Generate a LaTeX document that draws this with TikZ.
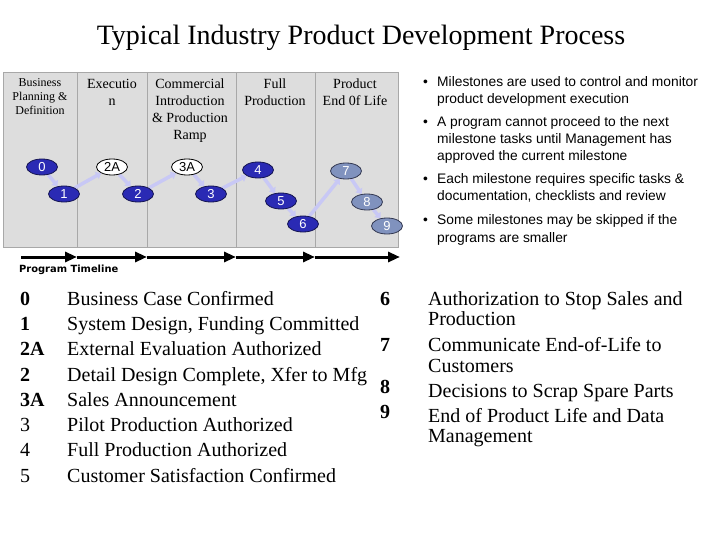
\documentclass[tikz,border=0pt]{standalone}
\usepackage{fontspec}
\setmainfont{Liberation Serif}
\setsansfont{Liberation Sans}
\newfontfamily\verdfont{DejaVu Sans}
\usetikzlibrary{shapes.geometric,arrows.meta,backgrounds}
\pgfdeclarelayer{conn}
\pgfsetlayers{background,conn,main}
\definecolor{panelgray}{RGB}{221,221,221}
\definecolor{panelline}{RGB}{168,168,168}
\definecolor{msblue}{RGB}{42,42,180}
\definecolor{msblueline}{RGB}{20,20,80}
\definecolor{msgray}{RGB}{128,146,190}
\definecolor{msgrayline}{RGB}{50,55,80}
\definecolor{connlav}{RGB}{200,200,245}
\tikzset{
  ms/.style={ellipse,minimum width=31pt,minimum height=16pt,inner sep=0pt,
    font=\fontsize{13}{13}\sffamily,line width=0.8pt},
  msb/.style={ms,fill=msblue,draw=msblueline,text=white},
  msg/.style={ms,fill=msgray,draw=msgrayline,text=white},
  msw/.style={ms,fill=white,draw=black,text=black},
  conn/.style={draw=connlav,line width=3.5pt,-{Triangle[width=8pt,length=5pt]}},
  tline/.style={draw=black,line width=3pt,-{Triangle[width=10pt,length=12pt]}},
  hdr/.style={anchor=base,align=center,font=\fontsize{14}{17}\selectfont,inner sep=0pt},
  bul/.style={anchor=base west,font=\fontsize{13.8}{17}\sffamily,inner sep=0pt},
  lst/.style={anchor=base west,font=\fontsize{20}{20.5}\selectfont,inner sep=0pt},
  lstb/.style={lst,font=\fontsize{20}{20.5}\selectfont\bfseries},
}
\begin{document}
\begin{tikzpicture}[x=1pt,y=-1pt]
\useasboundingbox (0,0) rectangle (720,540);
% title
\node[anchor=base,font=\fontsize{28}{28}\selectfont,inner sep=0pt] (title) at (361,45) {Typical Industry Product Development Process};
% panel
\begin{pgfonlayer}{background}
\node[draw=panelline,fill=panelgray,line width=0.8pt,minimum width=395pt,minimum height=175pt,inner sep=0pt,anchor=north west] (panel) at (3,72) {};
\foreach \x in {77,147,236,315}{
  \draw[panelline,line width=0.8pt] (\x,72) -- (\x,247);
}
\end{pgfonlayer}
% headers (anchor at baseline of last line)
\node[hdr,font=\fontsize{12}{14}\selectfont] (h1) at (40,115) {Business\\Planning \&\\Definition};
\node[hdr] (h2) at (112,106) {Executio\\n};
\node[hdr] (h3) at (190,140) {Commercial\\Introduction\\\& Production\\Ramp};
\node[hdr] (h4) at (275,106) {Full\\Production};
\node[hdr] (h5) at (355,106) {Product\\End 0f Life};
% milestones
\node[msb] (m0) at (42,167) {0};
\node[msb] (m1) at (64,194) {1};
\node[msw] (m2A) at (112,167) {2A};
\node[msb] (m2) at (138,194) {2};
\node[msw] (m3A) at (187,167) {3A};
\node[msb] (m3) at (211,194) {3};
\node[msb] (m4) at (258,170) {4};
\node[msb] (m5) at (281,201) {5};
\node[msb] (m6) at (303,224) {6};
\node[msg] (m7) at (346,171) {7};
\node[msg] (m8) at (367,202) {8};
\node[msg] (m9) at (387,226) {9};
\begin{pgfonlayer}{conn}
\draw[conn] (m0) -- (m1);
\draw[conn] (m1) -- (m2A);
\draw[conn] (m2A) -- (m2);
\draw[conn] (m2) -- (m3A);
\draw[conn] (m3A) -- (m3);
\draw[conn] (m3) -- (m4);
\draw[conn] (m4) -- (m5);
\draw[conn] (m5) -- (m6);
\draw[conn] (m6) -- (m7);
\draw[conn] (m7) -- (m8);
\draw[conn] (m8) -- (m9);
\end{pgfonlayer}
% timeline
\coordinate (t0) at (21,257);
\coordinate (t1) at (77,257);
\coordinate (t2) at (147,257);
\coordinate (t3) at (236,257);
\coordinate (t4) at (315,257);
\coordinate (t5) at (400,257);
\draw[tline] (t0) -- (t1);
\draw[tline] (t1) -- (t2);
\draw[tline] (t2) -- (t3);
\draw[tline] (t3) -- (t4);
\draw[tline] (t4) -- (t5);
\node[anchor=base west,font=\fontsize{9.9}{10}\verdfont\bfseries,inner sep=0pt] (tl) at (19,272) {Program Timeline};
% bullets
\foreach \y/\t [count=\i] in {87/{Milestones are used to control and monitor},
  127/{A program cannot proceed to the next},
  184/{Each milestone requires specific tasks \&},
  225/{Some milestones may be skipped if the}}{
  \node[bul] (b\i) at (423,\y) {•};
  \node[bul] (bt\i) at (437,\y) {\t};
}
\node[bul] (bc1) at (437,104) {product development execution};
\node[bul] (bc2) at (437,144) {milestone tasks until Management has};
\node[bul] (bc3) at (437,161) {approved the current milestone};
\node[bul] (bc4) at (437,201) {documentation, checklists and review};
\node[bul] (bc5) at (437,242) {programs are smaller};
% left list
\node[lstb] (n0) at (20,305) {0};
\node[lstb] (n1) at (20,330.3) {1};
\node[lstb] (n2A) at (20,355.6) {2A};
\node[lstb] (n2) at (20,381) {2};
\node[lstb] (n3A) at (20,406.2) {3A};
\node[lst] (n3) at (20,431.5) {3};
\node[lst] (n4) at (20,456.8) {4};
\node[lst] (n5) at (20,482) {5};
\node[lst] (l0) at (67,305) {Business Case Confirmed};
\node[lst] (l1) at (67,330.3) {System Design, Funding Committed};
\node[lst] (l2A) at (67,355.6) {External Evaluation Authorized};
\node[lst] (l2) at (67,381) {Detail Design Complete, Xfer to Mfg};
\node[lst] (l3A) at (67,406.2) {Sales Announcement};
\node[lst] (l3) at (67,431.5) {Pilot Production Authorized};
\node[lst] (l4) at (67,456.8) {Full Production Authorized};
\node[lst] (l5) at (67,482) {Customer Satisfaction Confirmed};
% right list
\node[lstb] (n6) at (380,305) {6};
\node[lstb] (n7) at (380,351) {7};
\node[lstb] (n8) at (380,393) {8};
\node[lstb] (n9) at (380,418) {9};
\node[lst] (r6a) at (428,305) {Authorization to Stop Sales and};
\node[lst] (r6b) at (428,325.5) {Production};
\node[lst] (r7a) at (428,351.5) {Communicate End-of-Life to};
\node[lst] (r7b) at (428,372) {Customers};
\node[lst] (r8) at (428,397) {Decisions to Scrap Spare Parts};
\node[lst] (r9a) at (428,422) {End of Product Life and Data};
\node[lst] (r9b) at (428,442.5) {Management};
\end{tikzpicture}
\end{document}
